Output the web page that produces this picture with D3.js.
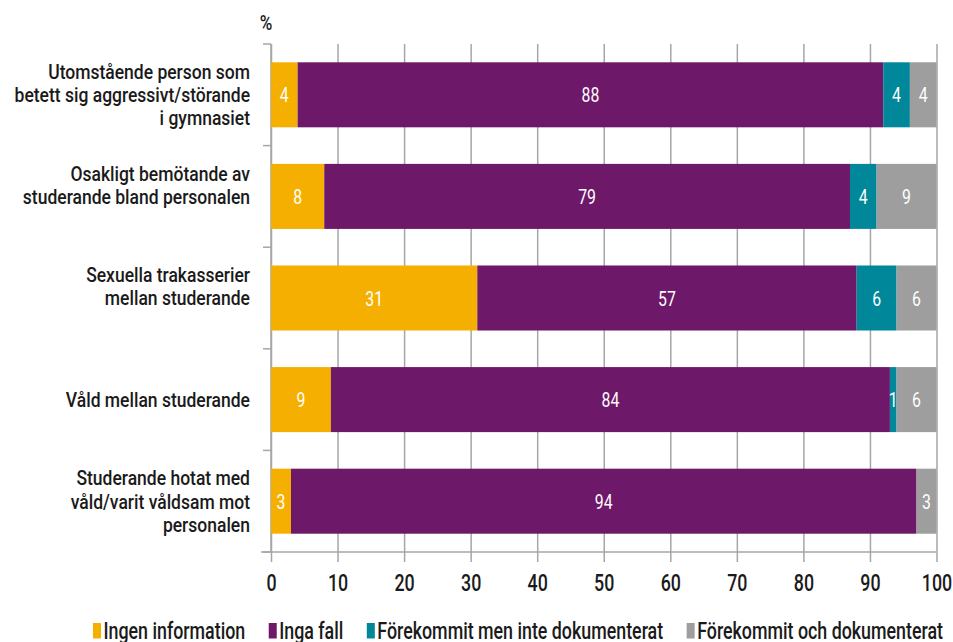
<!DOCTYPE html>
<html>
<head>
<meta charset="utf-8">
<script src="https://cdn.jsdelivr.net/npm/d3@7"></script>
<style>
  html, body { margin: 0; padding: 0; background: #fff; }
  svg text { font-family: "Roboto", "Liberation Sans", sans-serif; font-weight: 500; }
</style>
</head>
<body>
<svg id="chart" width="953" height="642"></svg>
<script>
const categories = [
  ["Utomstående person som", "betett sig aggressivt/störande", "i gymnasiet"],
  ["Osakligt bemötande av", "studerande bland personalen"],
  ["Sexuella trakasserier", "mellan studerande"],
  ["Våld mellan studerande"],
  ["Studerande hotat med", "våld/varit våldsam mot", "personalen"]
];
const seriesNames = ["Ingen information", "Inga fall", "Förekommit men inte dokumenterat", "Förekommit och dokumenterat"];
const ingenInformation = [4, 8, 31, 9, 3];
const ingaFall = [88, 79, 57, 84, 94];
const forekommitEjDok = [4, 4, 6, 1, 0];
const forekommitDok = [4, 9, 6, 6, 3];
const xTicks = [0, 10, 20, 30, 40, 50, 60, 70, 80, 90, 100];
const colors = ["#F5AF00", "#6E1869", "#00889A", "#9D9E9D"];

const svg = d3.select("#chart");
const FS_CAT = 20.5, FS_LEG = 23, FS_VAL = 21, FS_TICK = 23;
function measure(str, fs) {
  const p = svg.append("text").attr("font-size", fs).text(str);
  const w = p.node().getComputedTextLength();
  p.remove();
  return w;
}
// horizontal compression factors so that the font mimics a condensed face
const SX_CAT = 202 / measure("Utomstående person som", FS_CAT);
const SX_LEG = 246 / measure("Förekommit och dokumenterat", FS_LEG);
const SX_VAL = 18 / measure("88", FS_VAL);
const SX_TICK = SX_LEG;
function squeeze(sel, ax, sx) {
  sel.attr("transform", `translate(${ax},0) scale(${sx},1) translate(${-ax},0)`);
}

const margin = {left: 271, right: 16.5, top: 44, bottom: 90};
const W = 953, H = 642;
const x = d3.scaleLinear().domain([0, 100]).range([margin.left, W - margin.right]);
const y = d3.scaleBand().domain(d3.range(categories.length)).range([margin.top, H - margin.bottom]).paddingInner(0.36).paddingOuter(0.18);
const yb = d3.scaleBand().domain(d3.range(categories.length)).range([margin.top, H - margin.bottom]);

const seriesArrays = [ingenInformation, ingaFall, forekommitEjDok, forekommitDok];
const table = categories.map((c, i) => {
  const o = {i};
  seriesNames.forEach((s, k) => o[s] = seriesArrays[k][i]);
  return o;
});
const stacked = d3.stack().keys(seriesNames)(table);

const gridColor = "#A6A6A6";
const xAxis = d3.axisBottom(x).tickValues(xTicks).tickSize(-(H - margin.bottom - margin.top)).tickPadding(0).tickFormat(d3.format("d"));
const gx = svg.append("g").attr("transform", `translate(0,${H - margin.bottom})`).call(xAxis);
gx.select(".domain").remove();
gx.selectAll(".tick line").attr("stroke", gridColor).attr("stroke-width", 1.5).attr("y1", 10);
gx.selectAll(".tick text").attr("font-size", FS_TICK).attr("fill", "#1a1a1a").attr("y", 31).attr("dy", "0.36em")
  .style("font-family", '"Roboto", sans-serif')
  .each(function() { squeeze(d3.select(this), 0, SX_TICK); });

svg.append("line").attr("x1", margin.left - 10).attr("x2", x(100)).attr("y1", H - margin.bottom).attr("y2", H - margin.bottom)
  .attr("stroke", gridColor).attr("stroke-width", 1.5);

const bounds = d3.range(categories.length + 1).map(i => margin.top + i * yb.step());
svg.append("line").attr("x1", margin.left).attr("x2", margin.left).attr("y1", margin.top).attr("y2", H - margin.bottom)
  .attr("stroke", gridColor).attr("stroke-width", 1.5);
svg.selectAll(".ltick").data(bounds).join("line").attr("class", "ltick")
  .attr("x1", margin.left - 8).attr("x2", margin.left).attr("y1", d => d).attr("y2", d => d)
  .attr("stroke", gridColor).attr("stroke-width", 1.5);

const layers = svg.selectAll(".layer").data(stacked).join("g").attr("class", "layer").attr("fill", (d, k) => colors[k]);
layers.selectAll("rect").data(d => d).join("rect")
  .attr("x", d => x(d[0])).attr("width", d => x(d[1]) - x(d[0]))
  .attr("y", (d, i) => y(i)).attr("height", y.bandwidth());

layers.each(function(layer) {
  d3.select(this).selectAll("text").data(layer.filter(d => d[1] - d[0] > 0)).join("text")
    .attr("x", d => (x(d[0]) + x(d[1])) / 2)
    .attr("y", d => y(d.data.i) + y.bandwidth() / 2)
    .attr("dy", "0.36em").attr("text-anchor", "middle").attr("fill", "#fff").attr("font-size", FS_VAL)
    .style("font-weight", 400)
    .text(d => d[1] - d[0])
    .each(function(d) { squeeze(d3.select(this), (x(d[0]) + x(d[1])) / 2, SX_VAL); });
});

const lineH = 23.2;
const labelX = 250;
svg.selectAll(".cat").data(categories).join("text").attr("class", "cat")
  .attr("text-anchor", "end").attr("font-size", FS_CAT).attr("fill", "#1a1a1a")
  .each(function(lines, i) {
    const cy = yb(i) + yb.bandwidth() / 2;
    const t = d3.select(this);
    const mid = Math.floor(lines.length / 2);
    lines.forEach((ln, j) => {
      t.append("tspan").attr("x", labelX).attr("y", cy + (j - mid) * lineH).attr("dy", "0.36em").text(ln);
    });
    squeeze(t, labelX, SX_CAT);
  });

svg.append("text").attr("x", 266).attr("y", 30).attr("text-anchor", "middle").attr("font-size", 20).attr("fill", "#1a1a1a").text("%")
  .call(s => squeeze(s, 266, SX_CAT));

const leg = svg.append("g");
let lx = 93;
const ly = 631;
seriesNames.forEach((s, k) => {
  leg.append("rect").attr("x", lx).attr("y", ly - 8).attr("width", 8).attr("height", 15.5).attr("fill", colors[k]);
  const tx = lx + 10.5;
  const t = leg.append("text").attr("x", tx).attr("y", ly).attr("dy", "0.36em").attr("font-size", FS_LEG).attr("fill", "#1a1a1a").text(s);
  squeeze(t, tx, SX_LEG);
  lx = tx + t.node().getComputedTextLength() * SX_LEG + 23.5;
});
</script>
</body>
</html>
